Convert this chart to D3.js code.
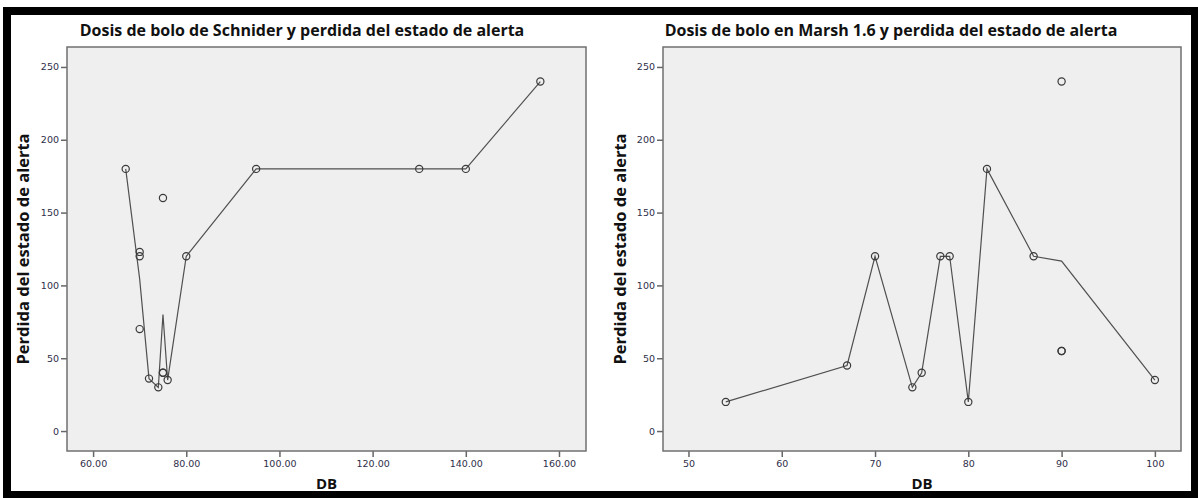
<!DOCTYPE html>
<html>
<head>
<meta charset="utf-8">
<script src="https://cdn.jsdelivr.net/npm/d3@7"></script>
<style>
  html, body { margin: 0; padding: 0; background: #ffffff; }
  svg { display: block; }
</style>
</head>
<body>
<svg id="chart" width="1198" height="498"></svg>
<script>
// Schnider bolus dose (DB) vs. loss of consciousness time
const schniderDB   = [67, 70, 70, 70, 72, 74, 75, 75, 75, 76, 80, 95, 130, 140, 156];
const schniderLoss = [180, 123, 120, 70, 36, 30, 160, 40, 40, 35, 120, 180, 180, 180, 240];

// Marsh 1.6 bolus dose (DB) vs. loss of consciousness time
const marshDB   = [54, 67, 70, 74, 75, 77, 78, 80, 82, 87, 90, 90, 90, 100];
const marshLoss = [20, 45, 120, 30, 40, 120, 120, 20, 180, 120, 240, 55, 55, 35];

// Axis ticks
const yTicks = [0, 50, 100, 150, 200, 250];
const schniderXTicks = [60, 80, 100, 120, 140, 160];
const marshXTicks = [50, 60, 70, 80, 90, 100];

const titles = [
  "Dosis de bolo de Schnider y perdida del estado de alerta",
  "Dosis de bolo en Marsh 1.6 y perdida del estado de alerta"
];
const xTitle = "DB";
const yTitle = "Perdida del estado de alerta";

const svg = d3.select("#chart");

const panels = [
  { x: schniderDB, y: schniderLoss, xTicks: schniderXTicks, xDomain: [54.4, 165.8],
    fmt: d3.format(".2f"), left: 67, right: 586, titleX: 302, title: titles[0], yLabelX: 23 },
  { x: marshDB, y: marshLoss, xTicks: marshXTicks, xDomain: [47.27, 102.8],
    fmt: d3.format("d"), left: 663, right: 1181, titleX: 891, title: titles[1], yLabelX: 620 }
];

const plotTop = 47, plotBottom = 451;
const tickColor = "#2e2e48";
const labelFont = "'Open Sans', sans-serif";

panels.forEach(p => {
  const g = svg.append("g");
  const x = d3.scaleLinear().domain(p.xDomain).range([p.left, p.right]);
  const y = d3.scaleLinear().domain([-13.7, 263.7]).range([plotBottom, plotTop]);

  // plot background
  g.append("rect")
    .attr("x", p.left).attr("y", plotTop)
    .attr("width", p.right - p.left).attr("height", plotBottom - plotTop)
    .attr("fill", "#efefef");

  // axes
  const yAxis = g.append("g")
    .attr("transform", `translate(${p.left},0)`)
    .call(d3.axisLeft(y).tickValues(yTicks).tickSize(6).tickPadding(2));
  const xAxis = g.append("g")
    .attr("transform", `translate(0,${plotBottom})`)
    .call(d3.axisBottom(x).tickValues(p.xTicks).tickFormat(p.fmt).tickSize(6).tickPadding(3));
  [yAxis, xAxis].forEach(a => {
    a.select(".domain").remove();
    a.selectAll(".tick line").attr("stroke", "#666").attr("stroke-width", 1.5);
    a.selectAll(".tick text")
      .attr("fill", tickColor)
      .style("font-family", "'DejaVu Sans', sans-serif")
      .style("font-size", "9.5px");
  });

  // plot frame
  g.append("rect")
    .attr("x", p.left).attr("y", plotTop)
    .attr("width", p.right - p.left).attr("height", plotBottom - plotTop)
    .attr("fill", "none").attr("stroke", "#707070").attr("stroke-width", 1.5);

  // line through the mean value at each dose
  const pts = p.x.map((d, i) => ({ x: d, y: p.y[i] }));
  const means = Array.from(d3.rollup(pts, v => d3.mean(v, d => d.y), d => d.x),
    ([k, v]) => ({ x: k, y: v })).sort((a, b) => a.x - b.x);
  g.append("path")
    .datum(means)
    .attr("fill", "none")
    .attr("stroke", "#505050")
    .attr("stroke-width", 1.2)
    .attr("d", d3.line().x(d => x(d.x)).y(d => y(d.y)));

  // observations
  g.selectAll("circle.obs")
    .data(pts)
    .join("circle")
    .attr("class", "obs")
    .attr("cx", d => x(d.x))
    .attr("cy", d => y(d.y))
    .attr("r", 3.6)
    .attr("fill", "none")
    .attr("stroke", "#3a3a3a")
    .attr("stroke-width", 1.2);

  // titles
  g.append("text")
    .attr("x", p.titleX).attr("y", 36)
    .attr("text-anchor", "middle")
    .style("font-family", labelFont)
    .style("font-weight", "700")
    .style("font-size", "16px")
    .attr("fill", "#111")
    .text(p.title);

  g.append("text")
    .attr("x", (p.left + p.right) / 2).attr("y", 489)
    .attr("text-anchor", "middle")
    .style("font-family", labelFont)
    .style("font-weight", "700")
    .style("font-size", "15px")
    .attr("fill", "#111")
    .text(xTitle);

  g.append("text")
    .attr("transform", `translate(${p.yLabelX},${(plotTop + plotBottom) / 2}) rotate(-90)`)
    .attr("text-anchor", "middle")
    .attr("dy", "0.35em")
    .style("font-family", labelFont)
    .style("font-weight", "700")
    .style("font-size", "16.5px")
    .attr("fill", "#111")
    .text(yTitle);
});

// outer black frame
svg.append("rect")
  .attr("x", 7).attr("y", 11)
  .attr("width", 1188).attr("height", 484)
  .attr("fill", "none")
  .attr("stroke", "#000")
  .attr("stroke-width", 8);
</script>
</body>
</html>
